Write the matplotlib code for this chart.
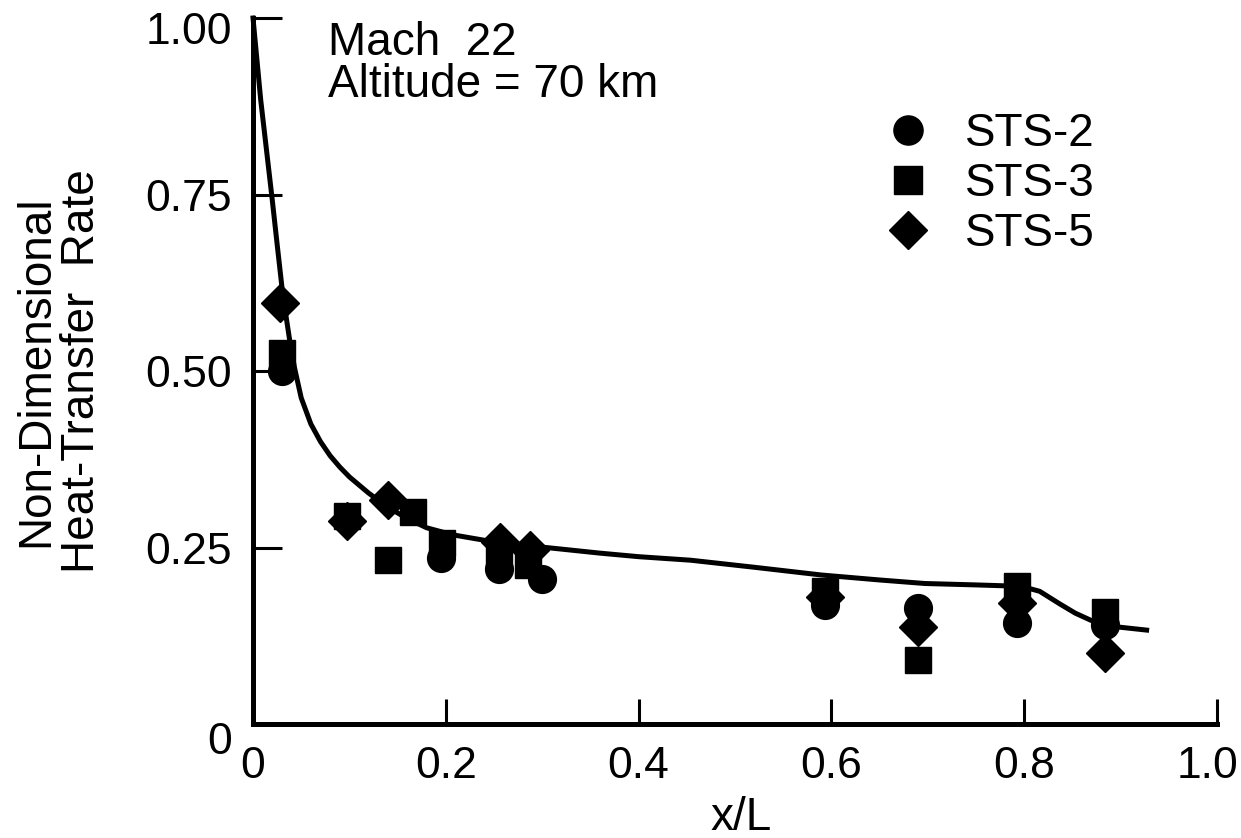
import matplotlib
matplotlib.use("Agg")
import matplotlib.pyplot as plt
from matplotlib.lines import Line2D
from matplotlib.transforms import ScaledTranslation

plt.rcParams['font.family'] = ['Liberation Sans', 'DejaVu Sans']

# theory curve
curve_x = [0.0, 0.008, 0.014, 0.020, 0.025, 0.030, 0.034, 0.038, 0.043, 0.050,
           0.060, 0.070, 0.080, 0.090, 0.100, 0.120, 0.140, 0.160, 0.180, 0.207,
           0.241, 0.297, 0.36, 0.40, 0.454, 0.52, 0.59, 0.65, 0.697, 0.75,
           0.797, 0.816, 0.837, 0.853, 0.869, 0.884, 0.90, 0.927]
curve_y = [1.0, 0.884, 0.813, 0.742, 0.68, 0.619, 0.58, 0.544, 0.505, 0.462,
           0.425, 0.40, 0.38, 0.364, 0.35, 0.327, 0.307, 0.291, 0.278, 0.268,
           0.26, 0.251, 0.242, 0.237, 0.232, 0.222, 0.211, 0.204, 0.199, 0.197,
           0.195, 0.188, 0.170, 0.157, 0.147, 0.141, 0.137, 0.133]

# flight data
sts2_x = [0.03, 0.195, 0.255, 0.30, 0.593, 0.69, 0.793, 0.884]
sts2_y = [0.50, 0.235, 0.22, 0.205, 0.168, 0.165, 0.143, 0.14]

sts3_x = [0.03, 0.097, 0.14, 0.166, 0.196, 0.255, 0.285, 0.593, 0.69, 0.793, 0.884]
sts3_y = [0.525, 0.295, 0.232, 0.30, 0.257, 0.24, 0.225, 0.188, 0.09, 0.195, 0.159]

sts5_x = [0.028, 0.097, 0.14, 0.256, 0.287, 0.593, 0.69, 0.793, 0.884]
sts5_y = [0.596, 0.287, 0.317, 0.258, 0.247, 0.18, 0.137, 0.172, 0.10]

xticks = [0, 0.2, 0.4, 0.6, 0.8, 1.0]
xlabels = ['0', '0.2', '0.4', '0.6', '0.8', '1.0']
yticks = [0, 0.25, 0.5, 0.75, 1.0]
ylabels = ['0', '0.25', '0.50', '0.75', '1.00']

fig = plt.figure(figsize=(12.41, 8.38), dpi=100)
ax = fig.add_axes([253 / 1241, 114 / 838, 964 / 1241, 706 / 838])

ax.plot(curve_x, curve_y, color='black', lw=3.6, clip_on=False, zorder=2,
        solid_joinstyle='round')
ax.plot(sts2_x, sts2_y, 'o', color='black', ms=20, clip_on=False, zorder=3)
ax.plot(sts3_x, sts3_y, 's', color='black', ms=19, clip_on=False, zorder=3)
ax.plot(sts5_x, sts5_y, 'D', color='black', ms=19, clip_on=False, zorder=3)

ax.set_xlim(0, 1.0)
ax.set_ylim(0, 1.0)
for s in ['top', 'right']:
    ax.spines[s].set_visible(False)
for s in ['left', 'bottom']:
    ax.spines[s].set_linewidth(3.6)

ax.set_xticks(xticks)
ax.set_xticklabels(xlabels, fontsize=32)
ax.set_yticks(yticks)
ax.set_yticklabels(ylabels, fontsize=32)
ax.tick_params(axis='x', direction='in', length=18, width=2.2, pad=16)
ax.tick_params(axis='y', direction='in', length=21, width=2.2, pad=15)

# a few labels sit slightly off their ticks in the original
ylab = ax.get_yticklabels()
ylab[0].set_transform(ylab[0].get_transform() + ScaledTranslation(0, -0.14, fig.dpi_scale_trans))
ylab[-1].set_transform(ylab[-1].get_transform() + ScaledTranslation(0, -0.10, fig.dpi_scale_trans))
xlab = ax.get_xticklabels()
xlab[-1].set_transform(xlab[-1].get_transform() + ScaledTranslation(-0.09, 0, fig.dpi_scale_trans))

ax.set_xlabel('x/L', fontsize=33, va='baseline')
ax.xaxis.set_label_coords(0.506, -0.150)
ax.set_ylabel('Non-Dimensional\nHeat-Transfer  Rate', fontsize=33, linespacing=1.05)
ax.yaxis.set_label_coords(-0.155, 0.5)

ax.text(0.078, 0.948, 'Mach  22', fontsize=33, va='baseline')
ax.text(0.078, 0.888, 'Altitude = 70 km', fontsize=33, va='baseline')

handles = [Line2D([], [], marker='o', ls='none', color='black', ms=21),
           Line2D([], [], marker='s', ls='none', color='black', ms=20),
           Line2D([], [], marker='D', ls='none', color='black', ms=19)]
ax.legend(handles, ['STS-2', 'STS-3', 'STS-5'], loc='upper left',
          bbox_to_anchor=(885 / 1241, 1 - 112 / 838), bbox_transform=fig.transFigure,
          frameon=False, fontsize=33, borderpad=0, borderaxespad=0,
          handlelength=1.0, handletextpad=0.74, labelspacing=0.13)

fig.savefig('out.png', dpi=100)
